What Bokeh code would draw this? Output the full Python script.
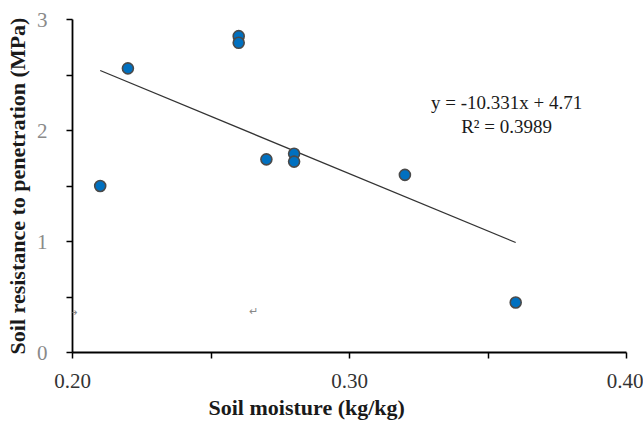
from bokeh.plotting import figure
from bokeh.models import Range1d, Label, Title, FixedTicker
from bokeh.embed import file_html
from bokeh.resources import INLINE

moisture = [0.21, 0.22, 0.26, 0.26, 0.27, 0.28, 0.28, 0.32, 0.36]
resistance = [1.50, 2.56, 2.85, 2.79, 1.74, 1.79, 1.72, 1.60, 0.45]
slope = -10.331
intercept = 4.71
eq_text = "y = -10.331x + 4.71"
r2_text = "R² = 0.3989"
x_ticks = [0.20, 0.30, 0.40]
x_minor = [0.25, 0.35]
y_ticks = [0, 1, 2, 3]
y_minor = [0.5, 1.5, 2.5]

FONT = "Liberation Serif"

p = figure(width=643, height=424, output_backend="svg", toolbar_location=None,
           x_range=Range1d(0.20, 0.40), y_range=Range1d(0, 3),
           min_border_left=72, min_border_right=17, min_border_top=19, min_border_bottom=72)
p.outline_line_color = None
p.grid.visible = False
p.background_fill_color = "white"
p.border_fill_color = "white"

# trendline
xl = [min(moisture), max(moisture)]
yl = [slope * v + intercept for v in xl]
p.line(xl, yl, line_color="#333333", line_width=1.3)

p.scatter(moisture, resistance, size=11, fill_color="#0070C0",
          line_color="#4a4a4a", line_width=1.6)

p.xaxis.ticker = FixedTicker(ticks=x_ticks, minor_ticks=x_minor)
p.yaxis.ticker = FixedTicker(ticks=y_ticks, minor_ticks=y_minor)
p.xaxis.major_label_overrides = {0.2: "0.20", 0.3: "0.30", 0.4: "0.40"}
for ax in (p.xaxis[0], p.yaxis[0]):
    ax.axis_line_color = "black"
    ax.axis_line_width = 1.8
    ax.major_tick_line_color = "black"
    ax.minor_tick_line_color = "black"
    ax.major_tick_line_width = 1.5
    ax.minor_tick_line_width = 1.5
    ax.major_tick_in = 0
    ax.major_tick_out = 6
    ax.minor_tick_in = 0
    ax.minor_tick_out = 6
    ax.major_label_text_font = FONT
    ax.major_label_text_font_size = "21px"

p.xaxis.major_label_text_color = "#333333"
p.xaxis.major_label_standoff = 15
p.yaxis.major_label_text_color = "#8a8a8a"
p.yaxis.major_label_standoff = 19

p.yaxis.axis_label = "Soil resistance to penetration (MPa)"
p.yaxis.axis_label_text_font = FONT
p.yaxis.axis_label_text_font_style = "bold"
p.yaxis.axis_label_text_font_size = "22px"
p.yaxis.axis_label_text_color = "#1a1a1a"
p.yaxis.axis_label_standoff = 4

xt = Title(text="Soil moisture (kg/kg)", align="left", offset=136,
           text_font=FONT, text_font_style="bold", text_font_size="22px",
           text_color="#1a1a1a", standoff=4)
p.add_layout(xt, "below")

p.add_layout(Label(x=0.3567, y=2.25, text=eq_text, text_align="center",
                   text_baseline="middle", text_font=FONT, text_font_size="19px",
                   text_color="#1a1a1a"))
p.add_layout(Label(x=0.3567, y=2.04, text=r2_text, text_align="center",
                   text_baseline="middle", text_font=FONT, text_font_size="19px",
                   text_color="#1a1a1a"))

# stray marks from the source document
p.add_layout(Label(x=0.2, y=0.36, text="→", text_align="center", text_baseline="middle",
                   text_font="DejaVu Sans", text_font_size="11px", text_color="#888888"))
p.add_layout(Label(x=0.2655, y=0.37, text="↵", text_align="center", text_baseline="middle",
                   text_font="DejaVu Sans", text_font_size="11px", text_color="#888888"))

open("out.html", "w").write(file_html(p, INLINE))
